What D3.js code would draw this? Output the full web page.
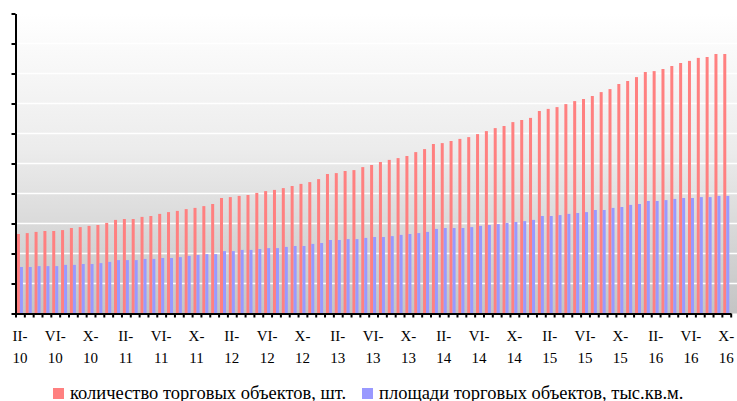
<!DOCTYPE html>
<html>
<head>
<meta charset="utf-8" />
<style>
html, body { margin: 0; padding: 0; background: #fff; }
svg text { font-family: 'Liberation Serif', 'DejaVu Serif', serif; fill: #000; }
</style>
</head>
<body>
<svg id="chart" width="737" height="401"></svg>
<script src="https://cdnjs.cloudflare.com/ajax/libs/d3/7.8.5/d3.min.js"></script>
<script>
// months II-2010 .. X-2016
var categories = [
  "II-10","III-10","IV-10","V-10","VI-10","VII-10","VIII-10","IX-10","X-10","XI-10","XII-10",
  "I-11","II-11","III-11","IV-11","V-11","VI-11","VII-11","VIII-11","IX-11","X-11","XI-11","XII-11",
  "I-12","II-12","III-12","IV-12","V-12","VI-12","VII-12","VIII-12","IX-12","X-12","XI-12","XII-12",
  "I-13","II-13","III-13","IV-13","V-13","VI-13","VII-13","VIII-13","IX-13","X-13","XI-13","XII-13",
  "I-14","II-14","III-14","IV-14","V-14","VI-14","VII-14","VIII-14","IX-14","X-14","XI-14","XII-14",
  "I-15","II-15","III-15","IV-15","V-15","VI-15","VII-15","VIII-15","IX-15","X-15","XI-15","XII-15",
  "I-16","II-16","III-16","IV-16","V-16","VI-16","VII-16","VIII-16","IX-16","X-16"
];

var tickLabels = ["II-10","VI-10","X-10","II-11","VI-11","X-11","II-12","VI-12","X-12",
  "II-13","VI-13","X-13","II-14","VI-14","X-14","II-15","VI-15","X-15","II-16","VI-16","X-16"];

// количество торговых объектов (relative units, no axis labels in the source)
var objects = [
  26.5, 26.8, 27.2, 27.5, 27.5, 27.8, 28.5, 28.8, 29.2, 29.5, 30.2, 31.2, 31.5, 31.5,
  32.2, 32.5, 33.2, 33.8, 34.2, 34.8, 35.2, 35.8, 36.5, 38.5, 38.8, 39.2, 39.5, 40.2,
  40.8, 41.2, 41.8, 42.5, 43.2, 43.8, 44.8, 46.5, 46.8, 47.5, 47.8, 48.8, 49.5,
  50.5, 51.2, 51.8, 52.5, 53.8, 54.8, 56.5, 56.8, 57.5, 58.2, 58.8, 59.8, 60.8, 61.8,
  62.5, 63.8, 64.5, 65.2, 67.5, 68.2, 68.8, 69.8, 70.8, 71.5, 72.5, 73.8, 74.8, 76.5,
  77.5, 78.8, 80.5, 80.8, 81.5, 82.5, 83.5, 84.2, 85.2, 85.5, 86.5, 86.5
];

// площади торговых объектов
var areas = [
  15.5, 15.5, 15.8, 15.8, 15.8, 16.2, 16.2, 16.5, 16.5, 16.8, 17.2, 17.8, 17.8, 17.8,
  18.2, 18.2, 18.5, 18.5, 18.8, 19.2, 19.5, 19.8, 19.8, 20.8, 20.8, 21.2, 21.2,
  21.5, 21.8, 21.8, 22.2, 22.5, 22.5, 23.2, 23.5, 24.5, 24.5, 24.8, 24.8, 25.2, 25.5,
  25.5, 25.8, 26.2, 26.5, 26.8, 27.2, 28.2, 28.5, 28.5, 28.5, 28.8, 29.2, 29.5, 29.8,
  30.2, 30.5, 30.8, 31.2, 32.5, 32.5, 32.8, 33.2, 33.5, 33.8, 34.5, 34.5, 35.2, 35.5,
  36.2, 36.5, 37.5, 37.5, 37.8, 38.2, 38.5, 38.5, 38.8, 38.8, 39.2, 39.2
];

var seriesNames = ["количество торговых объектов, шт.", "площади торговых объектов, тыс.кв.м."];
var seriesColors = ["#ff8080", "#9999ff"];

var svg = d3.select("#chart");
var mLeft = 15.5, mRight = 730.7, mTop = 13.5, mBottom = 313.5;

var x = d3.scaleBand().domain(categories).range([mLeft, mRight]).padding(0);
var x1 = d3.scaleBand().domain([0, 1]).range([0, x.bandwidth()]).paddingOuter(0.47).paddingInner(0);
var xb = d3.scaleLinear().domain([0, categories.length]).range([mLeft, mRight]);
var y = d3.scaleLinear().domain([0, 100]).range([mBottom, mTop]);

// plot area gradient
var defs = svg.append("defs");
var grad = defs.append("linearGradient").attr("id", "bg")
  .attr("x1", 0).attr("y1", 0).attr("x2", 0).attr("y2", 1);
grad.append("stop").attr("offset", "0%").attr("stop-color", "#ffffff");
grad.append("stop").attr("offset", "45%").attr("stop-color", "#ececec");
grad.append("stop").attr("offset", "100%").attr("stop-color", "#c4c4c4");

svg.append("rect")
  .attr("x", mLeft).attr("y", mTop)
  .attr("width", mRight - mLeft + 10).attr("height", mBottom - mTop)
  .attr("fill", "url(#bg)");

// gridlines
svg.append("g").selectAll("line")
  .data(d3.range(10, 100, 10))
  .enter().append("line")
  .attr("x1", mLeft).attr("x2", mRight + 10)
  .attr("y1", function(d) { return y(d); })
  .attr("y2", function(d) { return y(d); })
  .attr("stroke", "#ffffff")
  .attr("stroke-width", 1.5);

// bars
var groups = svg.append("g").selectAll("g")
  .data(categories)
  .enter().append("g")
  .attr("transform", function(d) { return "translate(" + x(d) + ",0)"; });

groups.append("rect")
  .attr("x", x1(0)).attr("width", x1.bandwidth())
  .attr("y", function(d, i) { return y(objects[i]); })
  .attr("height", function(d, i) { return mBottom - y(objects[i]); })
  .attr("fill", seriesColors[0]);

groups.append("rect")
  .attr("x", x1(1)).attr("width", x1.bandwidth())
  .attr("y", function(d, i) { return y(areas[i]); })
  .attr("height", function(d, i) { return mBottom - y(areas[i]); })
  .attr("fill", seriesColors[1]);

// y axis, no labels
var yAxis = svg.append("g")
  .attr("transform", "translate(" + mLeft + ",0)")
  .call(d3.axisLeft(y).tickValues(d3.range(0, 101, 10)).tickFormat("").tickSize(4).tickSizeOuter(0));
yAxis.selectAll("path, line").attr("stroke", "#000").attr("stroke-width", 2);

// x axis: ticks on category boundaries
var xAxis = svg.append("g")
  .attr("transform", "translate(0," + mBottom + ")")
  .call(d3.axisBottom(xb).tickValues(d3.range(0, categories.length + 1)).tickFormat("").tickSize(4).tickSizeOuter(0));
xAxis.selectAll("path, line").attr("stroke", "#000").attr("stroke-width", 2);

// category labels on two lines
var lbl = svg.append("g").selectAll("text")
  .data(tickLabels)
  .enter().append("text")
  .attr("text-anchor", "middle")
  .attr("font-family", "Liberation Serif")
  .attr("font-size", 15);
lbl.append("tspan")
  .attr("x", function(d) { return x(d) + x.bandwidth() / 2; })
  .attr("y", 341)
  .text(function(d) { return d.split("-")[0] + "-"; });
lbl.append("tspan")
  .attr("x", function(d) { return x(d) + x.bandwidth() / 2; })
  .attr("y", 363)
  .text(function(d) { return d.split("-")[1]; });

// legend
var legendX = [53, 362];
var leg = svg.append("g").selectAll("g")
  .data(seriesNames)
  .enter().append("g")
  .attr("transform", function(d, i) { return "translate(" + legendX[i] + ",388)"; });
leg.append("rect")
  .attr("width", 11).attr("height", 11)
  .attr("fill", function(d, i) { return seriesColors[i]; });
leg.append("text")
  .attr("x", 17).attr("y", 11)
  .attr("font-family", "Liberation Serif")
  .attr("font-size", 18.5)
  .text(function(d) { return d; });
</script>
</body>
</html>
